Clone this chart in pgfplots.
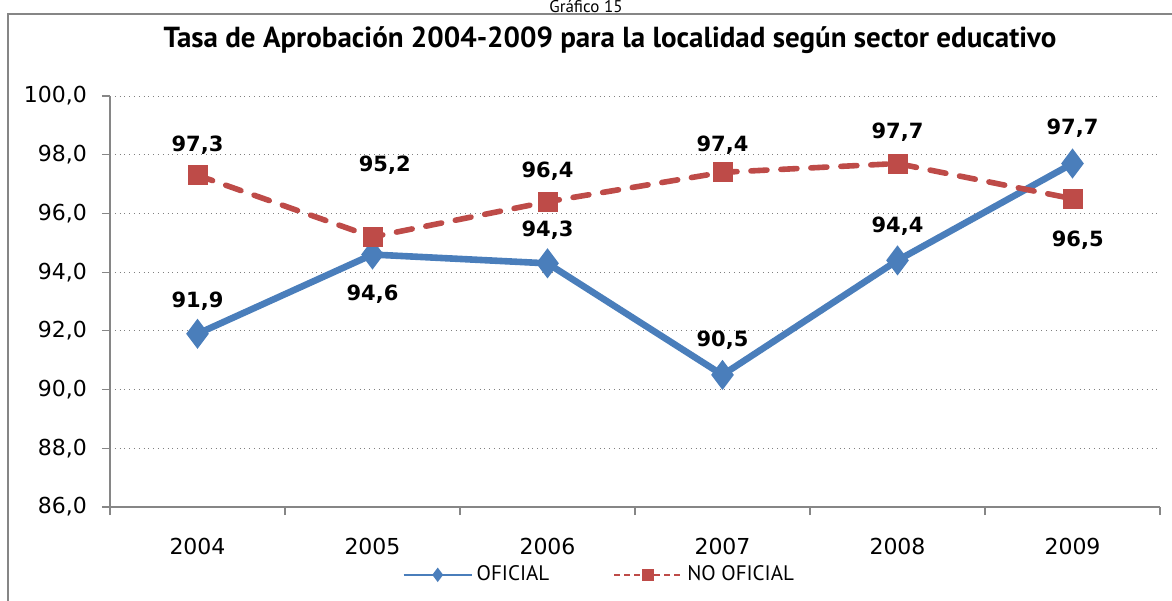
\documentclass[border=0pt]{standalone}
\usepackage{pgfplots}
\pgfplotsset{compat=1.18}
\usepackage{fontspec}
\setmainfont{DejaVu Sans}
\newfontfamily\gill{PT Sans}

\definecolor{ofblue}{HTML}{4A7EBB}
\definecolor{nored}{HTML}{BE4B48}
\definecolor{axgray}{HTML}{868686}

\begin{document}
\begin{tikzpicture}
% page = 1172 x 600 px, 1 px = 0.5pt
\clip (0,0) rectangle (586pt,-300pt);
\draw[axgray, line width=1pt] (4pt,-7pt) rectangle (600pt,-320pt);
\node[anchor=base, font=\gill\fontsize{8.5}{10}\selectfont] at (293pt,-6.3pt) {Gráfico 15};
\node[anchor=center, font=\gill\bfseries\fontsize{14.5}{17}\selectfont] at (305pt,-20pt)
  {Tasa de Aprobación 2004-2009 para la localidad según sector educativo};

\begin{axis}[
  at={(55pt,-253.5pt)}, anchor=south west,
  scale only axis, width=525pt, height=205.5pt,
  xmin=-0.5, xmax=5.5, ymin=86, ymax=100,
  axis x line*=bottom, axis y line*=left,
  axis line style={axgray, line width=0.6pt},
  xtick={-0.5,0.5,...,5.5},
  x tick label as interval,
  xticklabels={2004,2005,2006,2007,2008,2009},
  xticklabel style={yshift=-8pt},
  ytick={86,88,...,100},
  yticklabel style={xshift=-4pt, /pgf/number format/.cd, fixed, fixed zerofill, precision=1, use comma},
  /pgf/number format/assume math mode=true,
  tick label style={font=\fontsize{11}{13}\selectfont, text=black},
  tick align=outside, major tick length=4pt,
  tick style={axgray, line width=0.6pt},
  ymajorgrids, major grid style={gray, dotted, line width=0.4pt},
  clip=false,
  legend columns=2,
  legend style={at={(0.467,-0.165)}, anchor=center, draw=none,
    font=\gill\fontsize{10.5}{12}\selectfont,
    /tikz/every even column/.append style={column sep=30pt}},
  legend image code/.code={\draw[mark repeat=2, mark phase=2] plot coordinates {(0pt,0pt) (17pt,0pt) (34pt,0pt)};},
]
\addplot[ofblue, line width=3.3pt, mark=diamond*, mark size=4.8pt, forget plot]
  coordinates {(0,91.9) (1,94.6) (2,94.3) (3,90.5) (4,94.4) (5,97.7)};
\addplot[nored, line width=2.8pt, dash pattern=on 8pt off 7pt, line cap=round,
  mark=square*, mark size=3.6pt, mark options={solid}, forget plot]
  coordinates {(0,97.3) (1,95.2) (2,96.4) (3,97.4) (4,97.7) (5,96.5)};

\addlegendimage{ofblue, line width=1pt, mark=diamond*, mark size=2.8pt}
\addlegendentry{OFICIAL}
\addlegendimage{nored, line width=1pt, dash pattern=on 3pt off 2pt, mark=square*, mark size=2.5pt, mark options={solid}}
\addlegendentry{NO OFICIAL}

\tikzset{lbl/.style={font=\bfseries\fontsize{10.5}{12}\selectfont, text=black}}
\node[lbl] at (axis cs:0,98.33) {97,3};
\node[lbl] at (axis cs:1.07,97.65) {95,2};
\node[lbl] at (axis cs:2,97.45) {96,4};
\node[lbl] at (axis cs:3,98.33) {97,4};
\node[lbl] at (axis cs:4,98.77) {97,7};
\node[lbl] at (axis cs:5,98.91) {97,7};
\node[lbl] at (axis cs:0,93.02) {91,9};
\node[lbl] at (axis cs:1,93.26) {94,6};
\node[lbl] at (axis cs:2,95.44) {94,3};
\node[lbl] at (axis cs:3,91.69) {90,5};
\node[lbl] at (axis cs:4,95.57) {94,4};
\node[lbl] at (axis cs:5.03,95.10) {96,5};
\end{axis}
\end{tikzpicture}
\end{document}
